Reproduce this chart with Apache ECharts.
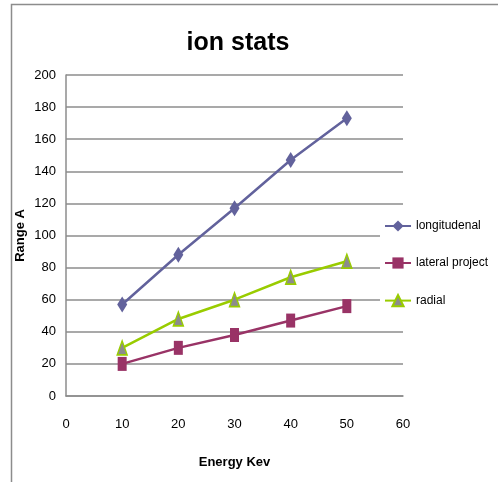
<!DOCTYPE html>
<html>
<head>
<meta charset="utf-8">
<script src="https://cdn.jsdelivr.net/npm/echarts@6/dist/echarts.min.js"></script>
<style>
  html, body { margin: 0; padding: 0; background: #fff; }
  #chart { width: 498px; height: 482px; }
</style>
</head>
<body>
<div id="chart"></div>
<script>
// Ion range statistics versus beam energy
const energyKev = [10, 20, 30, 40, 50];
const longitudenal = [57, 88, 117, 147, 173];
const lateralProject = [20, 30, 38, 47, 56];
const radial = [30, 48, 60, 74, 84];
const seriesNames = ['longitudenal', 'lateral project', 'radial'];

const narrow = '"Liberation Sans Narrow", "Liberation Sans", Arial, sans-serif';

const pairs = (ys) => energyKev.map((x, i) => [x, ys[i]]);

const chart = echarts.init(document.getElementById('chart'), null, { renderer: 'canvas' });
chart.setOption({
  backgroundColor: '#fff',
  animation: false,
  title: {
    text: 'ion stats',
    left: 233, top: 26, textAlign: 'center',
    textStyle: { fontFamily: narrow, fontSize: 25, fontWeight: 'bold', color: '#000' }
  },
  graphic: [{
    type: 'polyline',
    shape: { points: [[11.5, 490], [11.5, 4.5], [500, 4.5]] },
    style: { stroke: '#8c8c8c', lineWidth: 1.5, fill: null },
    silent: true
  }],
  grid: { left: 66, right: 95, top: 75, bottom: 86 },
  legend: {
    orient: 'vertical',
    left: 380, top: 214,
    padding: [6, 4, 6, 4],
    backgroundColor: '#fff',
    itemWidth: 26, itemHeight: 14, itemGap: 25,
    textStyle: { fontFamily: narrow, fontSize: 12, color: '#000' },
    data: seriesNames
  },
  xAxis: {
    type: 'value', min: 0, max: 60, interval: 10,
    name: 'Energy Kev', nameLocation: 'middle', nameGap: 60,
    nameMoveOverlap: false,
    nameTextStyle: { fontFamily: narrow, fontSize: 13, fontWeight: 'bold', color: '#000' },
    axisLine: { show: true, onZero: false, lineStyle: { color: '#8c8c8c', width: 1.5 } },
    axisTick: { show: false },
    splitLine: { show: false },
    axisLabel: { margin: 22, fontFamily: narrow, fontSize: 13, color: '#000' }
  },
  yAxis: {
    type: 'value', min: 0, max: 200, interval: 20,
    name: 'Range A', nameLocation: 'middle', nameGap: 39, nameRotate: 90,
    nameMoveOverlap: false,
    nameTextStyle: { fontFamily: narrow, fontSize: 13, fontWeight: 'bold', color: '#000' },
    axisLine: { show: true, lineStyle: { color: '#8c8c8c', width: 1.5 } },
    axisTick: { show: false },
    splitLine: { show: true, lineStyle: { color: '#8c8c8c', width: 1.5 } },
    axisLabel: { margin: 10, fontFamily: narrow, fontSize: 13, color: '#000' }
  },
  series: [
    {
      name: seriesNames[0], type: 'line', data: pairs(longitudenal),
      symbol: 'diamond', symbolSize: [10, 16],
      itemStyle: { color: '#62629c' },
      lineStyle: { color: '#62629c', width: 2.5 }
    },
    {
      name: seriesNames[1], type: 'line', data: pairs(lateralProject),
      symbol: 'rect', symbolSize: [9, 14],
      itemStyle: { color: '#993366' },
      lineStyle: { color: '#993366', width: 2.5 }
    },
    {
      name: seriesNames[2], type: 'line', data: pairs(radial),
      symbol: 'triangle', symbolSize: [10, 14],
      itemStyle: { color: '#8c8c8c', borderColor: '#99cc00', borderWidth: 1.5 },
      lineStyle: { color: '#99cc00', width: 2.5 }
    }
  ]
});
</script>
</body>
</html>
